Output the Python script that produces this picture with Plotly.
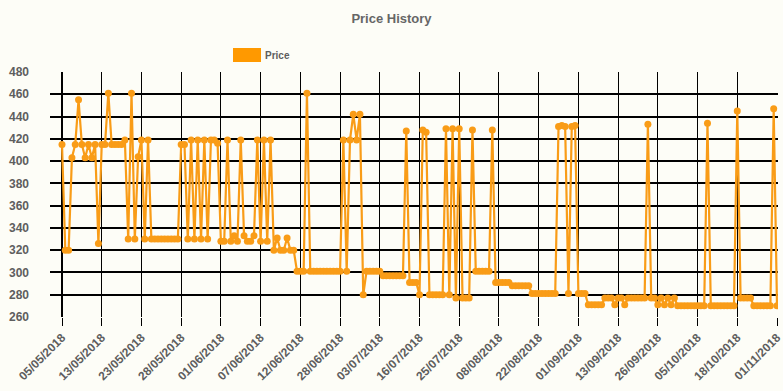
import plotly.graph_objects as go

# Tick labels (one every 12 observations on a categorical axis)
tick_labels = ["05/05/2018", "13/05/2018", "23/05/2018", "28/05/2018", "01/06/2018",
               "07/06/2018", "12/06/2018", "28/06/2018", "03/07/2018", "16/07/2018",
               "25/07/2018", "08/08/2018", "22/08/2018", "01/09/2018", "13/09/2018",
               "26/09/2018", "05/10/2018", "18/10/2018", "01/11/2018"]

# Price observations, grouped by tick interval
p00 = [415, 320, 320, 403, 415, 455, 415, 403, 415, 403, 415, 326]
p01 = [415, 415, 461, 415, 415, 415, 415, 419, 330, 461, 330, 404]
p02 = [419, 330, 419, 330, 330, 330, 330, 330, 330, 330, 330, 330]
p03 = [415, 415, 330, 419, 330, 419, 330, 419, 330, 419, 419, 416]
p04 = [328, 328, 419, 328, 333, 328, 419, 333, 328, 328, 333, 419]
p05 = [328, 419, 328, 419, 320, 331, 320, 320, 331, 320, 320, 301]
p06 = [301, 301, 461, 301, 301, 301, 301, 301, 301, 301, 301, 301]
p07 = [301, 419, 301, 419, 442, 419, 442, 280, 301, 301, 301, 301]
p08 = [301, 297, 297, 297, 297, 297, 297, 297, 427, 291, 291, 291]
p09 = [280, 428, 426, 280, 280, 280, 280, 280, 429, 280, 429, 277]
p10 = [429, 277, 277, 277, 428, 301, 301, 301, 301, 301, 428, 291]
p11 = [291, 291, 291, 291, 288, 288, 288, 288, 288, 288, 281, 281]
p12 = [281, 281, 281, 281, 281, 281, 431, 432, 431, 281, 431, 432]
p13 = [281, 281, 281, 271, 271, 271, 271, 271, 277, 277, 277, 271]
p14 = [277, 277, 271, 277, 277, 277, 277, 277, 277, 433, 277, 277]
p15 = [271, 277, 271, 277, 271, 277, 270, 270, 270, 270, 270, 270]
p16 = [270, 270, 270, 434, 270, 270, 270, 270, 270, 270, 270, 270]
p17 = [445, 277, 277, 277, 277, 270, 270, 270, 270, 270, 270, 447, 270]

prices = (p00 + p01 + p02 + p03 + p04 + p05 + p06 + p07 + p08 + p09 +
          p10 + p11 + p12 + p13 + p14 + p15 + p16 + p17)
idx = list(range(len(prices)))
step = 12
tick_pos = [i * step for i in range(len(tick_labels))]

ORANGE = "#FF9900"
LINE = "#F99C17"
BG = "#FDFDF7"
GREY = "#5E5E5E"
NARROW = "Liberation Sans Narrow, Noto Sans Condensed, Liberation Sans"

fig = go.Figure()
fig.add_trace(go.Scatter(
    x=idx, y=prices, mode="lines+markers", name="Price",
    line=dict(color=LINE, width=2.2),
    marker=dict(color=LINE, size=7),
    showlegend=False, hoverinfo="skip",
))

# legend swatch + label
fig.add_shape(type="rect", xref="paper", yref="paper",
              x0=(233 - 50) / 728, x1=(261 - 50) / 728,
              y0=(317 - 62) / 245, y1=(317 - 48) / 245,
              fillcolor=ORANGE, line=dict(width=0))
fig.add_annotation(xref="paper", yref="paper", x=(263 - 50) / 728, y=(317 - 55) / 245,
                   xanchor="left", yanchor="middle", showarrow=False, text="<b>Price</b>",
                   font=dict(family=NARROW, size=10, color=GREY))

fig.update_layout(
    width=783, height=391,
    margin=dict(l=50, r=5, t=72, b=74),
    paper_bgcolor=BG, plot_bgcolor=BG,
    title=dict(text="<b>Price History</b>", x=0.5, xref="container", xanchor="center",
               y=1 - 18 / 391, yref="container", yanchor="middle",
               font=dict(family=NARROW, size=13, color="#666666")),
    font=dict(family="Liberation Sans, Arial, sans-serif", color=GREY),
    xaxis=dict(
        range=[-12 * 216 / 715, 216 + 216 / 715],
        tickmode="array", tickvals=tick_pos, ticktext=[f"<b>{t}</b>" for t in tick_labels],
        tickangle=-45, tickfont=dict(size=12, color=GREY),
        showgrid=True, gridcolor="black", gridwidth=1,
        ticks="outside", ticklen=8, tickcolor="black", tickwidth=1,
        zeroline=True, zerolinecolor="black", zerolinewidth=2,
        showline=False, automargin=False, ticklabeloverflow="allow",
    ),
    yaxis=dict(
        range=[260, 480], dtick=20, tick0=260,
        tickfont=dict(size=12, color=GREY),
        tickprefix="<b>", ticksuffix="</b>",
        showgrid=True, gridcolor="black", gridwidth=2,
        zeroline=False, showline=False, ticks="",
        ticklabelstandoff=20, automargin=False,
    ),
)

fig.write_html("out.html", config={"displayModeBar": False},
               post_script="document.body.style.margin='0px';")
